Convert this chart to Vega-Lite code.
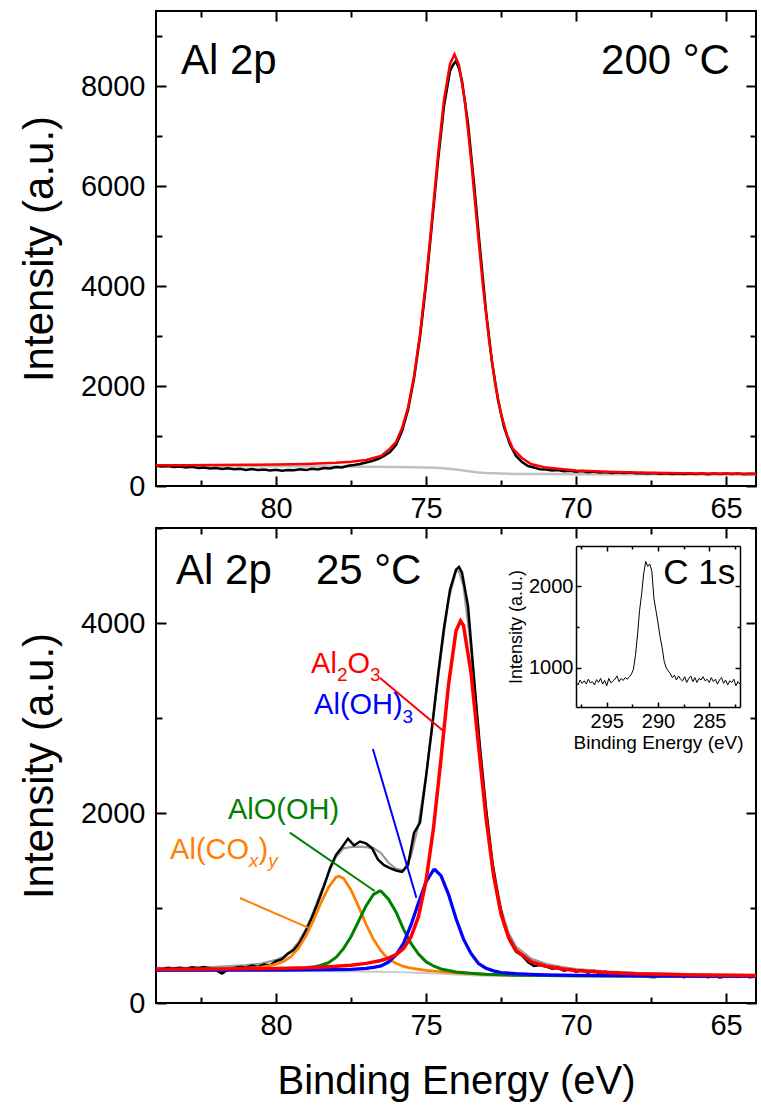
{
  "$schema": "https://vega.github.io/schema/vega-lite/v6.json",
  "background": "white",
  "padding": {"left": 17, "top": 9, "right": 0, "bottom": 0},
  "bounds": "flush",
  "spacing": 42,
  "resolve": {"scale": {"color": "independent", "strokeWidth": "independent"}},
  "config": {
    "font": "Liberation Sans",
    "axis": {"labelColor": "black", "titleColor": "black", "tickColor": "black", "domainColor": "black", "labelFont": "Liberation Sans", "titleFont": "Liberation Sans", "titleFontWeight": "normal", "grid": false, "labelFlush": false, "labelOverlap": false, "tickWidth": 2},
    "text": {"font": "Liberation Sans"}
  },
  "datasets": {
    "dummy": [{"x": 74, "y": 1000}],
    "top": [
      {"s": "bg", "x": 84, "y": 400}, {"s": "bg", "x": 82, "y": 398}, {"s": "bg", "x": 80, "y": 395}, {"s": "bg", "x": 78, "y": 389}, {"s": "bg", "x": 76, "y": 378}, {"s": "bg", "x": 75.5, "y": 374}, {"s": "bg", "x": 75, "y": 368}, {"s": "bg", "x": 74.5, "y": 358}, {"s": "bg", "x": 74.25, "y": 345}, {"s": "bg", "x": 74, "y": 330}, {"s": "bg", "x": 73.75, "y": 308}, {"s": "bg", "x": 73.5, "y": 288}, {"s": "bg", "x": 73.25, "y": 272}, {"s": "bg", "x": 73, "y": 260}, {"s": "bg", "x": 72.5, "y": 248}, {"s": "bg", "x": 72, "y": 241}, {"s": "bg", "x": 71, "y": 238}, {"s": "bg", "x": 70, "y": 236}, {"s": "bg", "x": 68, "y": 234}, {"s": "bg", "x": 66, "y": 232}, {"s": "bg", "x": 64, "y": 230},
      {"s": "data", "x": 84.0, "y": 405}, {"s": "data", "x": 83.8, "y": 390}, {"s": "data", "x": 83.6, "y": 398}, {"s": "data", "x": 83.4, "y": 380}, {"s": "data", "x": 83.2, "y": 392}, {"s": "data", "x": 83.0, "y": 370}, {"s": "data", "x": 82.8, "y": 385}, {"s": "data", "x": 82.6, "y": 360}, {"s": "data", "x": 82.4, "y": 372}, {"s": "data", "x": 82.2, "y": 350}, {"s": "data", "x": 82.0, "y": 362}, {"s": "data", "x": 81.8, "y": 340}, {"s": "data", "x": 81.6, "y": 355}, {"s": "data", "x": 81.4, "y": 335}, {"s": "data", "x": 81.2, "y": 345}, {"s": "data", "x": 81.0, "y": 322}, {"s": "data", "x": 80.8, "y": 338}, {"s": "data", "x": 80.6, "y": 318}, {"s": "data", "x": 80.4, "y": 330}, {"s": "data", "x": 80.2, "y": 312}, {"s": "data", "x": 80.0, "y": 325}, {"s": "data", "x": 79.8, "y": 305}, {"s": "data", "x": 79.6, "y": 322}, {"s": "data", "x": 79.4, "y": 315}, {"s": "data", "x": 79.2, "y": 335}, {"s": "data", "x": 79.0, "y": 318}, {"s": "data", "x": 78.8, "y": 345}, {"s": "data", "x": 78.6, "y": 332}, {"s": "data", "x": 78.4, "y": 360}, {"s": "data", "x": 78.2, "y": 352}, {"s": "data", "x": 78.0, "y": 380}, {"s": "data", "x": 77.8, "y": 372}, {"s": "data", "x": 77.6, "y": 405}, {"s": "data", "x": 77.4, "y": 420}, {"s": "data", "x": 77.2, "y": 440}, {"s": "data", "x": 77.0, "y": 470}, {"s": "data", "x": 76.8, "y": 500}, {"s": "data", "x": 76.6, "y": 540}, {"s": "data", "x": 76.4, "y": 600}, {"s": "data", "x": 76.2, "y": 680}, {"s": "data", "x": 76.0, "y": 820}, {"s": "data", "x": 75.8, "y": 1100}, {"s": "data", "x": 75.6, "y": 1520}, {"s": "data", "x": 75.4, "y": 2150}, {"s": "data", "x": 75.2, "y": 2980}, {"s": "data", "x": 75.0, "y": 4020}, {"s": "data", "x": 74.8, "y": 5250}, {"s": "data", "x": 74.6, "y": 6500}, {"s": "data", "x": 74.4, "y": 7600}, {"s": "data", "x": 74.2, "y": 8300}, {"s": "data", "x": 74.1, "y": 8420}, {"s": "data", "x": 74.0, "y": 8500}, {"s": "data", "x": 73.9, "y": 8350}, {"s": "data", "x": 73.8, "y": 8100}, {"s": "data", "x": 73.6, "y": 7250}, {"s": "data", "x": 73.4, "y": 6050}, {"s": "data", "x": 73.2, "y": 4750}, {"s": "data", "x": 73.0, "y": 3500}, {"s": "data", "x": 72.8, "y": 2480}, {"s": "data", "x": 72.6, "y": 1720}, {"s": "data", "x": 72.4, "y": 1180}, {"s": "data", "x": 72.2, "y": 830}, {"s": "data", "x": 72.0, "y": 600}, {"s": "data", "x": 71.8, "y": 480}, {"s": "data", "x": 71.6, "y": 400}, {"s": "data", "x": 71.4, "y": 370}, {"s": "data", "x": 71.2, "y": 335}, {"s": "data", "x": 71.0, "y": 330}, {"s": "data", "x": 70.8, "y": 310}, {"s": "data", "x": 70.6, "y": 318}, {"s": "data", "x": 70.4, "y": 295}, {"s": "data", "x": 70.2, "y": 305}, {"s": "data", "x": 70.0, "y": 285}, {"s": "data", "x": 69.8, "y": 298}, {"s": "data", "x": 69.6, "y": 275}, {"s": "data", "x": 69.4, "y": 288}, {"s": "data", "x": 69.2, "y": 270}, {"s": "data", "x": 69.0, "y": 282}, {"s": "data", "x": 68.8, "y": 262}, {"s": "data", "x": 68.6, "y": 275}, {"s": "data", "x": 68.4, "y": 258}, {"s": "data", "x": 68.2, "y": 270}, {"s": "data", "x": 68.0, "y": 255}, {"s": "data", "x": 67.8, "y": 262}, {"s": "data", "x": 67.6, "y": 248}, {"s": "data", "x": 67.4, "y": 258}, {"s": "data", "x": 67.2, "y": 245}, {"s": "data", "x": 67.0, "y": 255}, {"s": "data", "x": 66.8, "y": 242}, {"s": "data", "x": 66.6, "y": 252}, {"s": "data", "x": 66.4, "y": 240}, {"s": "data", "x": 66.2, "y": 250}, {"s": "data", "x": 66.0, "y": 238}, {"s": "data", "x": 65.8, "y": 250}, {"s": "data", "x": 65.6, "y": 236}, {"s": "data", "x": 65.4, "y": 248}, {"s": "data", "x": 65.2, "y": 240}, {"s": "data", "x": 65.0, "y": 252}, {"s": "data", "x": 64.8, "y": 238}, {"s": "data", "x": 64.6, "y": 248}, {"s": "data", "x": 64.4, "y": 236}, {"s": "data", "x": 64.2, "y": 245}, {"s": "data", "x": 64.0, "y": 240},
      {"s": "fit", "x": 84, "y": 413}, {"s": "fit", "x": 83, "y": 416}, {"s": "fit", "x": 82, "y": 418}, {"s": "fit", "x": 81, "y": 424}, {"s": "fit", "x": 80, "y": 430}, {"s": "fit", "x": 79, "y": 442}, {"s": "fit", "x": 78, "y": 467}, {"s": "fit", "x": 77.5, "y": 487}, {"s": "fit", "x": 77, "y": 522}, {"s": "fit", "x": 76.5, "y": 602}, {"s": "fit", "x": 76.25, "y": 720}, {"s": "fit", "x": 76, "y": 878}, {"s": "fit", "x": 75.8, "y": 1154}, {"s": "fit", "x": 75.6, "y": 1569}, {"s": "fit", "x": 75.4, "y": 2190}, {"s": "fit", "x": 75.2, "y": 3040}, {"s": "fit", "x": 75, "y": 4101}, {"s": "fit", "x": 74.8, "y": 5339}, {"s": "fit", "x": 74.6, "y": 6613}, {"s": "fit", "x": 74.4, "y": 7722}, {"s": "fit", "x": 74.2, "y": 8440}, {"s": "fit", "x": 74.05, "y": 8632}, {"s": "fit", "x": 73.9, "y": 8422}, {"s": "fit", "x": 73.7, "y": 7677}, {"s": "fit", "x": 73.5, "y": 6540}, {"s": "fit", "x": 73.3, "y": 5245}, {"s": "fit", "x": 73.1, "y": 3993}, {"s": "fit", "x": 72.9, "y": 2922}, {"s": "fit", "x": 72.7, "y": 2065}, {"s": "fit", "x": 72.5, "y": 1440}, {"s": "fit", "x": 72.3, "y": 1021}, {"s": "fit", "x": 72.1, "y": 741}, {"s": "fit", "x": 71.8, "y": 560}, {"s": "fit", "x": 71.5, "y": 439}, {"s": "fit", "x": 71, "y": 368}, {"s": "fit", "x": 70, "y": 312}, {"s": "fit", "x": 69, "y": 285}, {"s": "fit", "x": 68, "y": 269}, {"s": "fit", "x": 66, "y": 252}, {"s": "fit", "x": 64, "y": 243}
    ],
    "bottom": [
      {"s": "base", "x": 84, "y": 345}, {"s": "base", "x": 82, "y": 343}, {"s": "base", "x": 80, "y": 340}, {"s": "base", "x": 78, "y": 335}, {"s": "base", "x": 77, "y": 331}, {"s": "base", "x": 76, "y": 325}, {"s": "base", "x": 75.5, "y": 321}, {"s": "base", "x": 75, "y": 316}, {"s": "base", "x": 74.5, "y": 309}, {"s": "base", "x": 74, "y": 300}, {"s": "base", "x": 73.5, "y": 293}, {"s": "base", "x": 73, "y": 288}, {"s": "base", "x": 72.5, "y": 285}, {"s": "base", "x": 72, "y": 284}, {"s": "base", "x": 70, "y": 282}, {"s": "base", "x": 68, "y": 281}, {"s": "base", "x": 66, "y": 280}, {"s": "base", "x": 64, "y": 280},
      {"s": "env", "x": 84, "y": 366}, {"s": "env", "x": 83, "y": 371}, {"s": "env", "x": 82, "y": 380}, {"s": "env", "x": 81, "y": 398}, {"s": "env", "x": 80.5, "y": 414}, {"s": "env", "x": 80, "y": 453}, {"s": "env", "x": 79.75, "y": 487}, {"s": "env", "x": 79.5, "y": 545}, {"s": "env", "x": 79.25, "y": 641}, {"s": "env", "x": 79, "y": 781}, {"s": "env", "x": 78.75, "y": 962}, {"s": "env", "x": 78.5, "y": 1171}, {"s": "env", "x": 78.25, "y": 1365}, {"s": "env", "x": 78, "y": 1538}, {"s": "env", "x": 77.75, "y": 1628}, {"s": "env", "x": 77.5, "y": 1642}, {"s": "env", "x": 77.25, "y": 1646}, {"s": "env", "x": 77, "y": 1640}, {"s": "env", "x": 76.75, "y": 1630}, {"s": "env", "x": 76.5, "y": 1578}, {"s": "env", "x": 76.25, "y": 1476}, {"s": "env", "x": 76, "y": 1414}, {"s": "env", "x": 75.75, "y": 1396}, {"s": "env", "x": 75.5, "y": 1546}, {"s": "env", "x": 75.25, "y": 1881}, {"s": "env", "x": 75, "y": 2388}, {"s": "env", "x": 74.75, "y": 3029}, {"s": "env", "x": 74.5, "y": 3671}, {"s": "env", "x": 74.25, "y": 4242}, {"s": "env", "x": 74, "y": 4547}, {"s": "env", "x": 73.9, "y": 4545}, {"s": "env", "x": 73.75, "y": 4387}, {"s": "env", "x": 73.5, "y": 3738}, {"s": "env", "x": 73.25, "y": 2863}, {"s": "env", "x": 73, "y": 2052}, {"s": "env", "x": 72.75, "y": 1421}, {"s": "env", "x": 72.5, "y": 994}, {"s": "env", "x": 72.25, "y": 739}, {"s": "env", "x": 72, "y": 594}, {"s": "env", "x": 71.5, "y": 467}, {"s": "env", "x": 71, "y": 412}, {"s": "env", "x": 70.5, "y": 380}, {"s": "env", "x": 70, "y": 357}, {"s": "env", "x": 69, "y": 333}, {"s": "env", "x": 68, "y": 317}, {"s": "env", "x": 66, "y": 302}, {"s": "env", "x": 64, "y": 294},
      {"s": "data", "x": 84.0, "y": 360}, {"s": "data", "x": 83.8, "y": 355}, {"s": "data", "x": 83.6, "y": 372}, {"s": "data", "x": 83.4, "y": 362}, {"s": "data", "x": 83.2, "y": 370}, {"s": "data", "x": 83.0, "y": 358}, {"s": "data", "x": 82.8, "y": 375}, {"s": "data", "x": 82.6, "y": 365}, {"s": "data", "x": 82.4, "y": 378}, {"s": "data", "x": 82.2, "y": 360}, {"s": "data", "x": 82.0, "y": 345}, {"s": "data", "x": 81.8, "y": 310}, {"s": "data", "x": 81.6, "y": 352}, {"s": "data", "x": 81.4, "y": 368}, {"s": "data", "x": 81.2, "y": 380}, {"s": "data", "x": 81.0, "y": 372}, {"s": "data", "x": 80.8, "y": 395}, {"s": "data", "x": 80.6, "y": 380}, {"s": "data", "x": 80.4, "y": 405}, {"s": "data", "x": 80.2, "y": 398}, {"s": "data", "x": 80.0, "y": 440}, {"s": "data", "x": 79.8, "y": 462}, {"s": "data", "x": 79.6, "y": 520}, {"s": "data", "x": 79.4, "y": 560}, {"s": "data", "x": 79.2, "y": 640}, {"s": "data", "x": 79.0, "y": 760}, {"s": "data", "x": 78.8, "y": 900}, {"s": "data", "x": 78.6, "y": 1060}, {"s": "data", "x": 78.4, "y": 1230}, {"s": "data", "x": 78.2, "y": 1420}, {"s": "data", "x": 78.0, "y": 1560}, {"s": "data", "x": 77.8, "y": 1640}, {"s": "data", "x": 77.6, "y": 1730}, {"s": "data", "x": 77.4, "y": 1660}, {"s": "data", "x": 77.2, "y": 1700}, {"s": "data", "x": 77.0, "y": 1680}, {"s": "data", "x": 76.8, "y": 1630}, {"s": "data", "x": 76.6, "y": 1510}, {"s": "data", "x": 76.4, "y": 1450}, {"s": "data", "x": 76.2, "y": 1420}, {"s": "data", "x": 76.0, "y": 1395}, {"s": "data", "x": 75.8, "y": 1380}, {"s": "data", "x": 75.6, "y": 1450}, {"s": "data", "x": 75.4, "y": 1790}, {"s": "data", "x": 75.2, "y": 1900}, {"s": "data", "x": 75.0, "y": 2380}, {"s": "data", "x": 74.8, "y": 2900}, {"s": "data", "x": 74.6, "y": 3450}, {"s": "data", "x": 74.4, "y": 3950}, {"s": "data", "x": 74.2, "y": 4350}, {"s": "data", "x": 74.0, "y": 4560}, {"s": "data", "x": 73.9, "y": 4590}, {"s": "data", "x": 73.8, "y": 4530}, {"s": "data", "x": 73.6, "y": 4180}, {"s": "data", "x": 73.4, "y": 3420}, {"s": "data", "x": 73.2, "y": 2680}, {"s": "data", "x": 73.0, "y": 2050}, {"s": "data", "x": 72.8, "y": 1500}, {"s": "data", "x": 72.6, "y": 1120}, {"s": "data", "x": 72.4, "y": 830}, {"s": "data", "x": 72.2, "y": 650}, {"s": "data", "x": 72.0, "y": 540}, {"s": "data", "x": 71.8, "y": 500}, {"s": "data", "x": 71.6, "y": 430}, {"s": "data", "x": 71.4, "y": 390}, {"s": "data", "x": 71.2, "y": 400}, {"s": "data", "x": 71.0, "y": 385}, {"s": "data", "x": 70.8, "y": 360}, {"s": "data", "x": 70.6, "y": 372}, {"s": "data", "x": 70.4, "y": 340}, {"s": "data", "x": 70.2, "y": 355}, {"s": "data", "x": 70.0, "y": 330}, {"s": "data", "x": 69.8, "y": 345}, {"s": "data", "x": 69.6, "y": 320}, {"s": "data", "x": 69.4, "y": 338}, {"s": "data", "x": 69.2, "y": 312}, {"s": "data", "x": 69.0, "y": 328}, {"s": "data", "x": 68.8, "y": 305}, {"s": "data", "x": 68.6, "y": 320}, {"s": "data", "x": 68.4, "y": 300}, {"s": "data", "x": 68.2, "y": 312}, {"s": "data", "x": 68.0, "y": 298}, {"s": "data", "x": 67.8, "y": 290}, {"s": "data", "x": 67.6, "y": 275}, {"s": "data", "x": 67.4, "y": 270}, {"s": "data", "x": 67.2, "y": 282}, {"s": "data", "x": 67.0, "y": 292}, {"s": "data", "x": 66.8, "y": 280}, {"s": "data", "x": 66.6, "y": 295}, {"s": "data", "x": 66.4, "y": 272}, {"s": "data", "x": 66.2, "y": 288}, {"s": "data", "x": 66.0, "y": 278}, {"s": "data", "x": 65.8, "y": 290}, {"s": "data", "x": 65.6, "y": 272}, {"s": "data", "x": 65.4, "y": 285}, {"s": "data", "x": 65.2, "y": 270}, {"s": "data", "x": 65.0, "y": 282}, {"s": "data", "x": 64.8, "y": 290}, {"s": "data", "x": 64.6, "y": 275}, {"s": "data", "x": 64.4, "y": 285}, {"s": "data", "x": 64.2, "y": 272}, {"s": "data", "x": 64.0, "y": 280},
      {"s": "Al(COx)y", "x": 84, "y": 351}, {"s": "Al(COx)y", "x": 83, "y": 353}, {"s": "Al(COx)y", "x": 82, "y": 357}, {"s": "Al(COx)y", "x": 81, "y": 366}, {"s": "Al(COx)y", "x": 80.5, "y": 376}, {"s": "Al(COx)y", "x": 80, "y": 408}, {"s": "Al(COx)y", "x": 79.75, "y": 437}, {"s": "Al(COx)y", "x": 79.5, "y": 489}, {"s": "Al(COx)y", "x": 79.25, "y": 578}, {"s": "Al(COx)y", "x": 79, "y": 708}, {"s": "Al(COx)y", "x": 78.75, "y": 873}, {"s": "Al(COx)y", "x": 78.5, "y": 1057}, {"s": "Al(COx)y", "x": 78.25, "y": 1216}, {"s": "Al(COx)y", "x": 78, "y": 1325}, {"s": "Al(COx)y", "x": 77.9, "y": 1335}, {"s": "Al(COx)y", "x": 77.75, "y": 1313}, {"s": "Al(COx)y", "x": 77.5, "y": 1190}, {"s": "Al(COx)y", "x": 77.25, "y": 1017}, {"s": "Al(COx)y", "x": 77, "y": 831}, {"s": "Al(COx)y", "x": 76.75, "y": 670}, {"s": "Al(COx)y", "x": 76.5, "y": 548}, {"s": "Al(COx)y", "x": 76.25, "y": 462}, {"s": "Al(COx)y", "x": 76, "y": 417}, {"s": "Al(COx)y", "x": 75.75, "y": 385}, {"s": "Al(COx)y", "x": 75.5, "y": 366}, {"s": "Al(COx)y", "x": 75, "y": 344}, {"s": "Al(COx)y", "x": 74.5, "y": 329}, {"s": "Al(COx)y", "x": 74, "y": 316}, {"s": "Al(COx)y", "x": 73, "y": 298}, {"s": "Al(COx)y", "x": 72, "y": 291}, {"s": "Al(COx)y", "x": 70, "y": 286}, {"s": "Al(COx)y", "x": 67, "y": 283}, {"s": "Al(COx)y", "x": 64, "y": 281},
      {"s": "AlO(OH)", "x": 84, "y": 348}, {"s": "AlO(OH)", "x": 82, "y": 349}, {"s": "AlO(OH)", "x": 80, "y": 355}, {"s": "AlO(OH)", "x": 79.5, "y": 359}, {"s": "AlO(OH)", "x": 79, "y": 368}, {"s": "AlO(OH)", "x": 78.75, "y": 378}, {"s": "AlO(OH)", "x": 78.5, "y": 397}, {"s": "AlO(OH)", "x": 78.25, "y": 424}, {"s": "AlO(OH)", "x": 78, "y": 480}, {"s": "AlO(OH)", "x": 77.75, "y": 572}, {"s": "AlO(OH)", "x": 77.5, "y": 698}, {"s": "AlO(OH)", "x": 77.25, "y": 859}, {"s": "AlO(OH)", "x": 77, "y": 1021}, {"s": "AlO(OH)", "x": 76.75, "y": 1143}, {"s": "AlO(OH)", "x": 76.55, "y": 1178}, {"s": "AlO(OH)", "x": 76.5, "y": 1176}, {"s": "AlO(OH)", "x": 76.25, "y": 1092}, {"s": "AlO(OH)", "x": 76, "y": 958}, {"s": "AlO(OH)", "x": 75.75, "y": 778}, {"s": "AlO(OH)", "x": 75.5, "y": 627}, {"s": "AlO(OH)", "x": 75.25, "y": 515}, {"s": "AlO(OH)", "x": 75, "y": 435}, {"s": "AlO(OH)", "x": 74.75, "y": 390}, {"s": "AlO(OH)", "x": 74.5, "y": 358}, {"s": "AlO(OH)", "x": 74, "y": 327}, {"s": "AlO(OH)", "x": 73.5, "y": 312}, {"s": "AlO(OH)", "x": 73, "y": 302}, {"s": "AlO(OH)", "x": 72, "y": 293}, {"s": "AlO(OH)", "x": 70, "y": 286}, {"s": "AlO(OH)", "x": 67, "y": 283}, {"s": "AlO(OH)", "x": 64, "y": 282},
      {"s": "Al(OH)3", "x": 84, "y": 347}, {"s": "Al(OH)3", "x": 82, "y": 346}, {"s": "Al(OH)3", "x": 80, "y": 346}, {"s": "Al(OH)3", "x": 79, "y": 348}, {"s": "Al(OH)3", "x": 78, "y": 352}, {"s": "Al(OH)3", "x": 77.5, "y": 355}, {"s": "Al(OH)3", "x": 77, "y": 364}, {"s": "Al(OH)3", "x": 76.75, "y": 376}, {"s": "Al(OH)3", "x": 76.5, "y": 391}, {"s": "Al(OH)3", "x": 76.25, "y": 431}, {"s": "Al(OH)3", "x": 76, "y": 505}, {"s": "Al(OH)3", "x": 75.75, "y": 628}, {"s": "Al(OH)3", "x": 75.5, "y": 822}, {"s": "Al(OH)3", "x": 75.25, "y": 1056}, {"s": "Al(OH)3", "x": 75, "y": 1275}, {"s": "Al(OH)3", "x": 74.75, "y": 1400}, {"s": "Al(OH)3", "x": 74.7, "y": 1402}, {"s": "Al(OH)3", "x": 74.5, "y": 1341}, {"s": "Al(OH)3", "x": 74.25, "y": 1144}, {"s": "Al(OH)3", "x": 74, "y": 889}, {"s": "Al(OH)3", "x": 73.75, "y": 672}, {"s": "Al(OH)3", "x": 73.5, "y": 522}, {"s": "Al(OH)3", "x": 73.25, "y": 415}, {"s": "Al(OH)3", "x": 73, "y": 366}, {"s": "Al(OH)3", "x": 72.75, "y": 338}, {"s": "Al(OH)3", "x": 72.5, "y": 321}, {"s": "Al(OH)3", "x": 72, "y": 308}, {"s": "Al(OH)3", "x": 71.5, "y": 301}, {"s": "Al(OH)3", "x": 71, "y": 296}, {"s": "Al(OH)3", "x": 70, "y": 290}, {"s": "Al(OH)3", "x": 68, "y": 285}, {"s": "Al(OH)3", "x": 66, "y": 283}, {"s": "Al(OH)3", "x": 64, "y": 282},
      {"s": "Al2O3", "x": 84, "y": 354}, {"s": "Al2O3", "x": 83, "y": 355}, {"s": "Al2O3", "x": 82, "y": 357}, {"s": "Al2O3", "x": 81, "y": 361}, {"s": "Al2O3", "x": 80, "y": 364}, {"s": "Al2O3", "x": 79, "y": 371}, {"s": "Al2O3", "x": 78, "y": 386}, {"s": "Al2O3", "x": 77.5, "y": 398}, {"s": "Al2O3", "x": 77, "y": 417}, {"s": "Al2O3", "x": 76.5, "y": 447}, {"s": "Al2O3", "x": 76.25, "y": 472}, {"s": "Al2O3", "x": 76, "y": 509}, {"s": "Al2O3", "x": 75.75, "y": 574}, {"s": "Al2O3", "x": 75.5, "y": 694}, {"s": "Al2O3", "x": 75.25, "y": 911}, {"s": "Al2O3", "x": 75, "y": 1282}, {"s": "Al2O3", "x": 74.75, "y": 1841}, {"s": "Al2O3", "x": 74.5, "y": 2570}, {"s": "Al2O3", "x": 74.25, "y": 3348}, {"s": "Al2O3", "x": 74, "y": 3915}, {"s": "Al2O3", "x": 73.85, "y": 4022}, {"s": "Al2O3", "x": 73.75, "y": 3974}, {"s": "Al2O3", "x": 73.5, "y": 3477}, {"s": "Al2O3", "x": 73.25, "y": 2711}, {"s": "Al2O3", "x": 73, "y": 1950}, {"s": "Al2O3", "x": 72.75, "y": 1348}, {"s": "Al2O3", "x": 72.5, "y": 937}, {"s": "Al2O3", "x": 72.25, "y": 691}, {"s": "Al2O3", "x": 72, "y": 554}, {"s": "Al2O3", "x": 71.5, "y": 436}, {"s": "Al2O3", "x": 71, "y": 387}, {"s": "Al2O3", "x": 70.5, "y": 360}, {"s": "Al2O3", "x": 70, "y": 341}, {"s": "Al2O3", "x": 69, "y": 320}, {"s": "Al2O3", "x": 68, "y": 307}, {"s": "Al2O3", "x": 66, "y": 295}, {"s": "Al2O3", "x": 64, "y": 289}
    ],
    "inset": [
      {"x": 298.0, "y": 820}, {"x": 297.8, "y": 790}, {"x": 297.6, "y": 850}, {"x": 297.4, "y": 810}, {"x": 297.2, "y": 840}, {"x": 297.0, "y": 800}, {"x": 296.8, "y": 860}, {"x": 296.6, "y": 815}, {"x": 296.4, "y": 830}, {"x": 296.2, "y": 790}, {"x": 296.0, "y": 855}, {"x": 295.8, "y": 820}, {"x": 295.6, "y": 870}, {"x": 295.4, "y": 800}, {"x": 295.2, "y": 845}, {"x": 295.0, "y": 780}, {"x": 294.8, "y": 870}, {"x": 294.6, "y": 815}, {"x": 294.4, "y": 840}, {"x": 294.2, "y": 860}, {"x": 294.0, "y": 900}, {"x": 293.8, "y": 830}, {"x": 293.6, "y": 870}, {"x": 293.4, "y": 845}, {"x": 293.2, "y": 880}, {"x": 293.0, "y": 860}, {"x": 292.8, "y": 890}, {"x": 292.6, "y": 920}, {"x": 292.4, "y": 980}, {"x": 292.2, "y": 1150}, {"x": 292.0, "y": 1400}, {"x": 291.8, "y": 1700}, {"x": 291.6, "y": 1900}, {"x": 291.4, "y": 2150}, {"x": 291.2, "y": 2300}, {"x": 291.0, "y": 2240}, {"x": 290.8, "y": 2270}, {"x": 290.6, "y": 2180}, {"x": 290.4, "y": 1850}, {"x": 290.2, "y": 1700}, {"x": 290.0, "y": 1550}, {"x": 289.8, "y": 1380}, {"x": 289.6, "y": 1250}, {"x": 289.4, "y": 1080}, {"x": 289.2, "y": 1000}, {"x": 289.0, "y": 960}, {"x": 288.8, "y": 930}, {"x": 288.6, "y": 880}, {"x": 288.4, "y": 910}, {"x": 288.2, "y": 850}, {"x": 288.0, "y": 900}, {"x": 287.8, "y": 860}, {"x": 287.6, "y": 840}, {"x": 287.4, "y": 890}, {"x": 287.2, "y": 820}, {"x": 287.0, "y": 870}, {"x": 286.8, "y": 900}, {"x": 286.6, "y": 830}, {"x": 286.4, "y": 880}, {"x": 286.2, "y": 820}, {"x": 286.0, "y": 870}, {"x": 285.8, "y": 850}, {"x": 285.6, "y": 890}, {"x": 285.4, "y": 840}, {"x": 285.2, "y": 860}, {"x": 285.0, "y": 820}, {"x": 284.8, "y": 880}, {"x": 284.6, "y": 830}, {"x": 284.4, "y": 860}, {"x": 284.2, "y": 800}, {"x": 284.0, "y": 850}, {"x": 283.8, "y": 880}, {"x": 283.6, "y": 810}, {"x": 283.4, "y": 850}, {"x": 283.2, "y": 790}, {"x": 283.0, "y": 840}, {"x": 282.8, "y": 820}, {"x": 282.6, "y": 860}, {"x": 282.4, "y": 780}, {"x": 282.2, "y": 830}, {"x": 282.0, "y": 800}
    ],
    "labmain": [
      {"s": "Al2O3", "t": "Al", "x": 78.83, "y": 3477},
      {"s": "Al2O3", "t": "O", "x": 77.62, "y": 3477},
      {"s": "Al(OH)3", "t": "Al(OH)", "x": 78.73, "y": 3042},
      {"s": "AlO(OH)", "t": "AlO(OH)", "x": 81.6, "y": 1937},
      {"s": "Al(COx)y", "t": "Al(CO", "x": 83.53, "y": 1516},
      {"s": "Al(COx)y", "t": ")", "x": 80.58, "y": 1516}
    ],
    "labsub": [
      {"s": "Al2O3", "t": "2", "x": 77.97, "y": 3389},
      {"s": "Al2O3", "t": "3", "x": 76.87, "y": 3389},
      {"s": "Al(OH)3", "t": "3", "x": 75.78, "y": 2947}
    ],
    "labsubi": [
      {"s": "Al(COx)y", "t": "x", "x": 80.9, "y": 1432},
      {"s": "Al(COx)y", "t": "y", "x": 80.26, "y": 1432}
    ],
    "leaders": [
      {"s": "Al2O3", "x": 76.53, "y": 3421, "x2": 74.37, "y2": 2850},
      {"s": "Al(OH)3", "x": 76.77, "y": 2674, "x2": 75.32, "y2": 1108},
      {"s": "AlO(OH)", "x": 79.54, "y": 1793, "x2": 76.71, "y2": 1179},
      {"s": "Al(COx)y", "x": 81.2, "y": 1105, "x2": 78.93, "y2": 793}
    ]
  },
  "vconcat": [
    {
      "width": 600,
      "height": 475,
      "view": {"stroke": "black", "strokeWidth": 2},
      "resolve": {"axis": {"x": "independent", "y": "independent"}},
      "layer": [
        {
          "data": {"name": "top"},
          "mark": {"type": "line", "strokeWidth": 2.5},
          "encoding": {
            "x": {"field": "x", "type": "quantitative", "scale": {"domain": [84, 64], "nice": false, "zero": false},
                  "axis": {"orient": "bottom", "values": [80, 75, 70, 65], "tickSize": -10, "labelPadding": 18, "labelFontSize": 29, "format": "d", "title": null, "domain": false}},
            "y": {"field": "y", "type": "quantitative", "scale": {"domain": [0, 9500], "nice": false, "zero": false},
                  "axis": {"orient": "left", "values": [0, 2000, 4000, 6000, 8000], "tickSize": -10, "labelPadding": 21, "labelFontSize": 29, "format": "d", "title": "Intensity (a.u.)", "titleFontSize": 42, "titlePadding": 19, "domain": false}},
            "color": {"field": "s", "type": "nominal", "scale": {"domain": ["bg", "data", "fit"], "range": ["#c0c0c0", "#000000", "#ff0000"]}, "legend": null}
          }
        },
        {
          "data": {"name": "dummy"},
          "mark": {"type": "point", "opacity": 0},
          "encoding": {
            "x": {"field": "x", "type": "quantitative", "scale": {"domain": [84, 64], "nice": false, "zero": false},
                  "axis": {"orient": "bottom", "values": [82.5, 77.5, 72.5, 67.5], "tickSize": -6, "labels": false, "title": null, "domain": false}},
            "y": {"field": "y", "type": "quantitative", "scale": {"domain": [0, 9500], "nice": false, "zero": false},
                  "axis": {"orient": "left", "values": [1000, 3000, 5000, 7000, 9000], "tickSize": -6, "labels": false, "title": null, "domain": false}}
          }
        },
        {
          "data": {"name": "dummy"},
          "mark": {"type": "point", "opacity": 0},
          "encoding": {
            "x": {"field": "x", "type": "quantitative", "scale": {"domain": [84, 64], "nice": false, "zero": false},
                  "axis": {"orient": "top", "values": [80, 75, 70, 65], "tickSize": -10, "labels": false, "title": null, "domain": false}},
            "y": {"field": "y", "type": "quantitative", "scale": {"domain": [0, 9500], "nice": false, "zero": false},
                  "axis": {"orient": "right", "values": [0, 2000, 4000, 6000, 8000], "tickSize": -10, "labels": false, "title": null, "domain": false}}
          }
        },
        {
          "data": {"name": "dummy"},
          "mark": {"type": "point", "opacity": 0},
          "encoding": {
            "x": {"field": "x", "type": "quantitative", "scale": {"domain": [84, 64], "nice": false, "zero": false},
                  "axis": {"orient": "top", "values": [82.5, 77.5, 72.5, 67.5], "tickSize": -6, "labels": false, "title": null, "domain": false}},
            "y": {"field": "y", "type": "quantitative", "scale": {"domain": [0, 9500], "nice": false, "zero": false},
                  "axis": {"orient": "right", "values": [1000, 3000, 5000, 7000, 9000], "tickSize": -6, "labels": false, "title": null, "domain": false}}
          }
        },
        {
          "data": {"values": [{"t": "Al 2p", "x": 83.17, "y": 8240}]},
          "mark": {"type": "text", "fontSize": 42, "align": "left", "baseline": "alphabetic", "color": "black"},
          "encoding": {
            "x": {"field": "x", "type": "quantitative", "scale": {"domain": [84, 64], "nice": false, "zero": false}, "axis": null},
            "y": {"field": "y", "type": "quantitative", "scale": {"domain": [0, 9500], "nice": false, "zero": false}, "axis": null},
            "text": {"field": "t"}
          }
        },
        {
          "data": {"values": [{"t": "200 °C", "x": 64.87, "y": 8240}]},
          "mark": {"type": "text", "fontSize": 42, "align": "right", "baseline": "alphabetic", "color": "black"},
          "encoding": {
            "x": {"field": "x", "type": "quantitative", "scale": {"domain": [84, 64], "nice": false, "zero": false}, "axis": null},
            "y": {"field": "y", "type": "quantitative", "scale": {"domain": [0, 9500], "nice": false, "zero": false}, "axis": null},
            "text": {"field": "t"}
          }
        }
      ]
    },
    {
      "width": 600,
      "height": 475,
      "view": {"stroke": "black", "strokeWidth": 2},
      "resolve": {"axis": {"x": "independent", "y": "independent"}, "scale": {"x": "independent", "y": "independent"}},
      "layer": [
        {
          "data": {"name": "bottom"},
          "mark": {"type": "line"},
          "encoding": {
            "x": {"field": "x", "type": "quantitative", "scale": {"domain": [84, 64], "nice": false, "zero": false},
                  "axis": {"orient": "bottom", "values": [80, 75, 70, 65], "tickSize": -10, "labelPadding": 18, "labelFontSize": 29, "format": "d", "title": "Binding Energy (eV)", "titleFontSize": 40, "titlePadding": 21, "domain": false}},
            "y": {"field": "y", "type": "quantitative", "scale": {"domain": [0, 5000], "nice": false, "zero": false},
                  "axis": {"orient": "left", "values": [0, 2000, 4000], "tickSize": -10, "labelPadding": 21, "labelFontSize": 29, "format": "d", "title": "Intensity (a.u.)", "titleFontSize": 42, "titlePadding": 19, "domain": false}},
            "color": {"field": "s", "type": "nominal", "scale": {"domain": ["base", "env", "data", "Al(COx)y", "AlO(OH)", "Al(OH)3", "Al2O3"], "range": ["#c8c8c8", "#9a9a9a", "#000000", "#ff8000", "#008000", "#0000ff", "#ff0000"]}, "legend": null},
            "strokeWidth": {"field": "s", "type": "nominal", "scale": {"domain": ["base", "env", "data", "Al(COx)y", "AlO(OH)", "Al(OH)3", "Al2O3"], "range": [2, 3.5, 2.5, 2, 2, 2, 2]}, "legend": null}
          }
        },
        {
          "data": {"name": "dummy"},
          "mark": {"type": "point", "opacity": 0},
          "encoding": {
            "x": {"field": "x", "type": "quantitative", "scale": {"domain": [84, 64], "nice": false, "zero": false},
                  "axis": {"orient": "bottom", "values": [82.5, 77.5, 72.5, 67.5], "tickSize": -6, "labels": false, "title": null, "domain": false}},
            "y": {"field": "y", "type": "quantitative", "scale": {"domain": [0, 5000], "nice": false, "zero": false},
                  "axis": {"orient": "left", "values": [1000, 3000, 5000], "tickSize": -6, "labels": false, "title": null, "domain": false}}
          }
        },
        {
          "data": {"name": "dummy"},
          "mark": {"type": "point", "opacity": 0},
          "encoding": {
            "x": {"field": "x", "type": "quantitative", "scale": {"domain": [84, 64], "nice": false, "zero": false},
                  "axis": {"orient": "top", "values": [80, 75, 70, 65], "tickSize": -10, "labels": false, "title": null, "domain": false}},
            "y": {"field": "y", "type": "quantitative", "scale": {"domain": [0, 5000], "nice": false, "zero": false},
                  "axis": {"orient": "right", "values": [0, 2000, 4000], "tickSize": -10, "labels": false, "title": null, "domain": false}}
          }
        },
        {
          "data": {"name": "dummy"},
          "mark": {"type": "point", "opacity": 0},
          "encoding": {
            "x": {"field": "x", "type": "quantitative", "scale": {"domain": [84, 64], "nice": false, "zero": false},
                  "axis": {"orient": "top", "values": [82.5, 77.5, 72.5, 67.5], "tickSize": -6, "labels": false, "title": null, "domain": false}},
            "y": {"field": "y", "type": "quantitative", "scale": {"domain": [0, 5000], "nice": false, "zero": false},
                  "axis": {"orient": "right", "values": [1000, 3000, 5000], "tickSize": -6, "labels": false, "title": null, "domain": false}}
          }
        },
        {
          "data": {"name": "leaders"},
          "mark": {"type": "rule", "strokeWidth": 2},
          "encoding": {
            "x": {"field": "x", "type": "quantitative", "scale": {"domain": [84, 64], "nice": false, "zero": false}, "axis": null},
            "y": {"field": "y", "type": "quantitative", "scale": {"domain": [0, 5000], "nice": false, "zero": false}, "axis": null},
            "x2": {"field": "x2"},
            "y2": {"field": "y2"},
            "color": {"field": "s", "type": "nominal", "scale": {"domain": ["base", "env", "data", "Al(COx)y", "AlO(OH)", "Al(OH)3", "Al2O3"], "range": ["#c8c8c8", "#9a9a9a", "#000000", "#ff8000", "#008000", "#0000ff", "#ff0000"]}, "legend": null}
          }
        },
        {
          "data": {"values": [{"t": "Al 2p", "x": 83.33, "y": 4410}, {"t": "25 °C", "x": 78.67, "y": 4410}]},
          "mark": {"type": "text", "fontSize": 42, "align": "left", "baseline": "alphabetic", "color": "black"},
          "encoding": {
            "x": {"field": "x", "type": "quantitative", "scale": {"domain": [84, 64], "nice": false, "zero": false}, "axis": null},
            "y": {"field": "y", "type": "quantitative", "scale": {"domain": [0, 5000], "nice": false, "zero": false}, "axis": null},
            "text": {"field": "t"}
          }
        },
        {
          "data": {"name": "labmain"},
          "mark": {"type": "text", "fontSize": 29, "align": "left", "baseline": "alphabetic"},
          "encoding": {
            "x": {"field": "x", "type": "quantitative", "scale": {"domain": [84, 64], "nice": false, "zero": false}, "axis": null},
            "y": {"field": "y", "type": "quantitative", "scale": {"domain": [0, 5000], "nice": false, "zero": false}, "axis": null},
            "text": {"field": "t"},
            "color": {"field": "s", "type": "nominal", "scale": {"domain": ["base", "env", "data", "Al(COx)y", "AlO(OH)", "Al(OH)3", "Al2O3"], "range": ["#c8c8c8", "#9a9a9a", "#000000", "#ff8000", "#008000", "#0000ff", "#ff0000"]}, "legend": null}
          }
        },
        {
          "data": {"name": "labsub"},
          "mark": {"type": "text", "fontSize": 19, "align": "left", "baseline": "alphabetic"},
          "encoding": {
            "x": {"field": "x", "type": "quantitative", "scale": {"domain": [84, 64], "nice": false, "zero": false}, "axis": null},
            "y": {"field": "y", "type": "quantitative", "scale": {"domain": [0, 5000], "nice": false, "zero": false}, "axis": null},
            "text": {"field": "t"},
            "color": {"field": "s", "type": "nominal", "scale": {"domain": ["base", "env", "data", "Al(COx)y", "AlO(OH)", "Al(OH)3", "Al2O3"], "range": ["#c8c8c8", "#9a9a9a", "#000000", "#ff8000", "#008000", "#0000ff", "#ff0000"]}, "legend": null}
          }
        },
        {
          "data": {"name": "labsubi"},
          "mark": {"type": "text", "fontSize": 19, "fontStyle": "italic", "align": "left", "baseline": "alphabetic"},
          "encoding": {
            "x": {"field": "x", "type": "quantitative", "scale": {"domain": [84, 64], "nice": false, "zero": false}, "axis": null},
            "y": {"field": "y", "type": "quantitative", "scale": {"domain": [0, 5000], "nice": false, "zero": false}, "axis": null},
            "text": {"field": "t"},
            "color": {"field": "s", "type": "nominal", "scale": {"domain": ["base", "env", "data", "Al(COx)y", "AlO(OH)", "Al(OH)3", "Al2O3"], "range": ["#c8c8c8", "#9a9a9a", "#000000", "#ff8000", "#008000", "#0000ff", "#ff0000"]}, "legend": null}
          }
        },
        {
          "data": {"name": "inset"},
          "mark": {"type": "line", "strokeWidth": 1, "color": "black"},
          "encoding": {
            "x": {"field": "x", "type": "quantitative", "scale": {"domain": [298, 282], "range": [420, 584], "nice": false, "zero": false},
                  "axis": {"orient": "bottom", "offset": -296, "values": [295, 290, 285], "tickSize": -5, "tickWidth": 1.5, "labelPadding": 9, "labelFontSize": 20, "format": "d", "title": "Binding Energy (eV)", "titleFontSize": 19, "titlePadding": 2, "domain": true, "domainWidth": 1.5}},
            "y": {"field": "y", "type": "quantitative", "scale": {"domain": [520, 2490], "range": [179, 18], "nice": false, "zero": false},
                  "axis": {"orient": "left", "offset": -420, "values": [1000, 2000], "tickSize": -5, "tickWidth": 1.5, "labelPadding": 8, "labelFontSize": 20, "format": "d", "title": "Intensity (a.u.)", "titleFontSize": 18, "titlePadding": 3, "domain": true, "domainWidth": 1.5}}
          }
        },
        {
          "data": {"name": "dummy"},
          "mark": {"type": "point", "opacity": 0},
          "encoding": {
            "x": {"field": "x", "type": "quantitative", "scale": {"domain": [298, 282], "range": [420, 584], "nice": false, "zero": false},
                  "axis": {"orient": "bottom", "offset": -296, "values": [297.5, 292.5, 287.5, 282.5], "tickSize": -3, "tickWidth": 1.5, "labels": false, "title": null, "domain": false}},
            "y": {"field": "y", "type": "quantitative", "scale": {"domain": [520, 2490], "range": [179, 18], "nice": false, "zero": false},
                  "axis": {"orient": "left", "offset": -420, "values": [1500], "tickSize": -3, "tickWidth": 1.5, "labels": false, "title": null, "domain": false}}
          }
        },
        {
          "data": {"name": "dummy"},
          "mark": {"type": "point", "opacity": 0},
          "encoding": {
            "x": {"field": "x", "type": "quantitative", "scale": {"domain": [298, 282], "range": [420, 584], "nice": false, "zero": false},
                  "axis": {"orient": "top", "offset": -18, "values": [295, 290, 285], "tickSize": -5, "tickWidth": 1.5, "labels": false, "title": null, "domain": true, "domainWidth": 1.5}},
            "y": {"field": "y", "type": "quantitative", "scale": {"domain": [520, 2490], "range": [179, 18], "nice": false, "zero": false},
                  "axis": {"orient": "right", "offset": -16, "values": [1000, 2000], "tickSize": -5, "tickWidth": 1.5, "labels": false, "title": null, "domain": true, "domainWidth": 1.5}}
          }
        },
        {
          "data": {"name": "dummy"},
          "mark": {"type": "point", "opacity": 0},
          "encoding": {
            "x": {"field": "x", "type": "quantitative", "scale": {"domain": [298, 282], "range": [420, 584], "nice": false, "zero": false},
                  "axis": {"orient": "top", "offset": -18, "values": [297.5, 292.5, 287.5, 282.5], "tickSize": -3, "tickWidth": 1.5, "labels": false, "title": null, "domain": false}},
            "y": {"field": "y", "type": "quantitative", "scale": {"domain": [520, 2490], "range": [179, 18], "nice": false, "zero": false},
                  "axis": {"orient": "right", "offset": -16, "values": [1500], "tickSize": -3, "tickWidth": 1.5, "labels": false, "title": null, "domain": false}}
          }
        },
        {
          "data": {"values": [{"t": "C 1s", "x": 282.46, "y": 2024}]},
          "mark": {"type": "text", "fontSize": 35, "align": "right", "baseline": "alphabetic", "color": "black"},
          "encoding": {
            "x": {"field": "x", "type": "quantitative", "scale": {"domain": [298, 282], "range": [420, 584], "nice": false, "zero": false}, "axis": null},
            "y": {"field": "y", "type": "quantitative", "scale": {"domain": [520, 2490], "range": [179, 18], "nice": false, "zero": false}, "axis": null},
            "text": {"field": "t"}
          }
        }
      ]
    }
  ]
}
